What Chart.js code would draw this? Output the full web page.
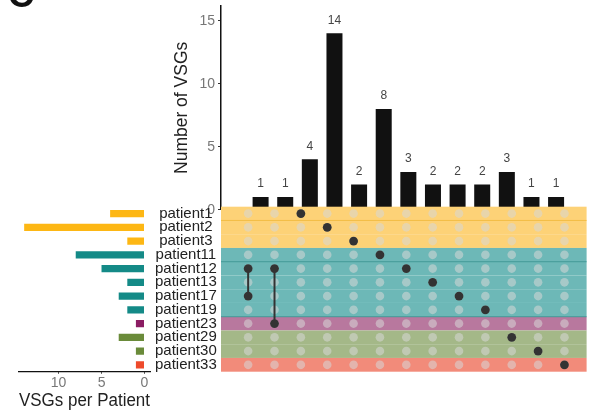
<!DOCTYPE html>
<html>
<head>
<meta charset="utf-8">
<script src="https://cdn.jsdelivr.net/npm/chart.js@4.4.1/dist/chart.umd.min.js"></script>
<style>
html, body { margin: 0; padding: 0; background: #fff; }
#wrap { position: relative; width: 591px; height: 411px; overflow: hidden; }
#wrap canvas { position: absolute; left: 0; top: 0; }
</style>
</head>
<body>
<div id="wrap">
<canvas id="intersectChart" width="591" height="411"></canvas>
<canvas id="setSizeChart" width="591" height="411"></canvas>
<canvas id="matrixChart" width="591" height="411"></canvas>
</div>
<script>
// sets (rows of the matrix), top to bottom
const patients = ['patient1', 'patient2', 'patient3', 'patient11', 'patient12', 'patient13',
    'patient17', 'patient19', 'patient23', 'patient29', 'patient30', 'patient33'];
const patientCounts = [4, 14, 2, 8, 5, 2, 3, 2, 1, 3, 1, 1];
const patientGroups = ['A', 'A', 'A', 'B', 'B', 'B', 'B', 'B', 'C', 'D', 'D', 'E'];

// intersections (columns), left to right
const intersectionSizes = [1, 1, 4, 14, 2, 8, 3, 2, 2, 2, 3, 1, 1];
const intersectionMembers = [
    ['patient12', 'patient17'], ['patient12', 'patient23'], ['patient1'], ['patient2'],
    ['patient3'], ['patient11'], ['patient12'], ['patient13'], ['patient17'], ['patient19'],
    ['patient29'], ['patient30'], ['patient33']
];

const sizeTicks = [0, 5, 10, 15];
const perPatientTicks = [0, 5, 10];

// styles
const groupBarColors = { A: '#FDB714', B: '#148A87', C: '#8B1D63', D: '#6A8B3A', E: '#EE4A2B' };
const groupBandColors = { A: '#FDD277', B: '#6DB8B7', C: '#B8789E', D: '#A4B888', E: '#F28B7A' };
const FONT = 'Liberation Sans';
const colMin = -1.03, colMax = 12.84;

Chart.defaults.font.family = FONT;
Chart.defaults.plugins.legend.display = false;
Chart.defaults.plugins.tooltip.enabled = false;
Chart.defaults.animation = false;

function zeroPadding(s) {
    s.paddingTop = 0; s.paddingBottom = 0; s.paddingLeft = 0; s.paddingRight = 0;
}
const columnTicks = s => { s.ticks = intersectionSizes.map((_, i) => ({ value: i })); };

// ---- top: intersection sizes ----
const barLabels = {
    id: 'barLabels',
    afterDatasetsDraw(chart) {
        const ctx = chart.ctx;
        ctx.save();
        ctx.fillStyle = '#444';
        ctx.font = '12px ' + FONT;
        ctx.textAlign = 'center';
        ctx.textBaseline = 'middle';
        chart.getDatasetMeta(0).data.forEach((bar, i) => {
            ctx.fillText(String(intersectionSizes[i]), bar.x, bar.y - 13);
        });
        // panel letter, cut off at the top edge
        ctx.fillStyle = '#111';
        ctx.font = 'bold 36px ' + FONT;
        ctx.textAlign = 'left';
        ctx.textBaseline = 'alphabetic';
        ctx.fillText('C', 8, 7);
        ctx.restore();
    }
};

new Chart(document.getElementById('intersectChart'), {
    type: 'bar',
    data: {
        datasets: [{
            data: intersectionSizes.map((v, i) => ({ x: i, y: v })),
            backgroundColor: '#111',
            barPercentage: 0.65,
            categoryPercentage: 1
        }]
    },
    options: {
        responsive: false,
        devicePixelRatio: 1,
        layout: { padding: { left: 168, right: 0, top: 6, bottom: 201.3 } },
        scales: {
            x: { type: 'linear', min: colMin, max: colMax, display: false, afterBuildTicks: columnTicks },
            y: {
                min: 0, max: 16.17,
                afterBuildTicks: s => { s.ticks = sizeTicks.map(v => ({ value: v })); },
                afterFit: s => { s.width = 53; zeroPadding(s); },
                border: { display: true, color: '#111', width: 1.5 },
                grid: { display: true, drawOnChartArea: false, drawTicks: true, tickLength: 3, color: '#333' },
                ticks: { color: '#777', font: { size: 14 }, padding: 3 },
                title: {
                    display: true, text: 'Number of VSGs', color: '#222',
                    font: { size: 17.5 }, padding: { top: 4, bottom: 4 }
                }
            }
        }
    },
    plugins: [barLabels]
});

// ---- left: VSGs per patient ----
new Chart(document.getElementById('setSizeChart'), {
    type: 'bar',
    data: {
        labels: patients,
        datasets: [{
            data: patientCounts,
            backgroundColor: patientGroups.map(g => groupBarColors[g]),
            barPercentage: 0.53,
            categoryPercentage: 1
        }]
    },
    options: {
        indexAxis: 'y',
        responsive: false,
        devicePixelRatio: 1,
        layout: { padding: { left: 19, right: 0, top: 206.7, bottom: 0 } },
        scales: {
            x: {
                type: 'linear', reverse: true, min: -0.64, max: 14.6, position: 'bottom',
                afterBuildTicks: s => { s.ticks = perPatientTicks.map(v => ({ value: v })); },
                afterFit: s => { s.height = 39.3; zeroPadding(s); },
                border: { display: true, color: '#111', width: 1.2 },
                grid: { display: true, drawOnChartArea: false, drawTicks: true, tickLength: 2, color: '#333' },
                ticks: { color: '#777', font: { size: 14 }, padding: 1 },
                title: {
                    display: true, text: 'VSGs per Patient', color: '#222',
                    font: { size: 17.5, lineHeight: 1 }, padding: { top: 0, bottom: 0.8 }
                }
            },
            y: {
                position: 'right',
                afterFit: s => { s.width = 441; zeroPadding(s); },
                border: { display: false },
                grid: { display: false },
                ticks: { color: '#222', font: { size: 15 }, padding: -3, crossAlign: 'center', autoSkip: false }
            }
        }
    }
});

// ---- matrix ----
const rowIndex = name => patients.indexOf(name);
const emptyDots = [];
intersectionSizes.forEach((_, c) => patients.forEach((_, r) => emptyDots.push({ x: c, y: r })));
const filledDots = [];
intersectionMembers.forEach((m, c) => m.forEach(p => filledDots.push({ x: c, y: rowIndex(p) })));
const linkSets = intersectionMembers
    .map((m, c) => ({ m, c }))
    .filter(o => o.m.length > 1)
    .map(o => {
        const rows = o.m.map(rowIndex);
        return {
            type: 'line',
            data: [{ x: o.c, y: Math.min(...rows) }, { x: o.c, y: Math.max(...rows) }],
            borderColor: '#333', borderWidth: 2, pointRadius: 0, showLine: true
        };
    });

const bandLines = [
    { after: 0, color: '#F4BE45' },
    { after: 3, color: '#3E9896' },
    { after: 7, color: '#3E9896' }
];

const rowBands = {
    id: 'rowBands',
    beforeDatasetsDraw(chart) {
        const { ctx, chartArea } = chart;
        const ys = chart.scales.y;
        ctx.save();
        patients.forEach((p, r) => {
            const y0 = ys.getPixelForValue(r - 0.5);
            const y1 = ys.getPixelForValue(r + 0.5);
            ctx.fillStyle = groupBandColors[patientGroups[r]];
            ctx.fillRect(chartArea.left, y0, chartArea.right - chartArea.left, y1 - y0);
        });
        bandLines.forEach(b => {
            const y = ys.getPixelForValue(b.after + 0.5);
            ctx.strokeStyle = b.color;
            ctx.lineWidth = 1;
            ctx.beginPath();
            ctx.moveTo(chartArea.left, y);
            ctx.lineTo(chartArea.right, y);
            ctx.stroke();
        });
        ctx.restore();
    }
};

new Chart(document.getElementById('matrixChart'), {
    type: 'scatter',
    data: {
        datasets: [
            { data: filledDots, backgroundColor: '#333', borderWidth: 0, pointRadius: 4.4 },
            ...linkSets,
            { data: emptyDots, backgroundColor: 'rgba(215,215,215,0.55)', borderWidth: 0, pointRadius: 4.3 }
        ]
    },
    options: {
        responsive: false,
        devicePixelRatio: 1,
        layout: { padding: { left: 221, right: 0, top: 206.7, bottom: 39.3 } },
        scales: {
            x: { type: 'linear', min: colMin, max: colMax, display: false },
            y: { type: 'linear', min: -0.5, max: 11.5, reverse: true, display: false }
        }
    },
    plugins: [rowBands]
});
</script>
</body>
</html>
